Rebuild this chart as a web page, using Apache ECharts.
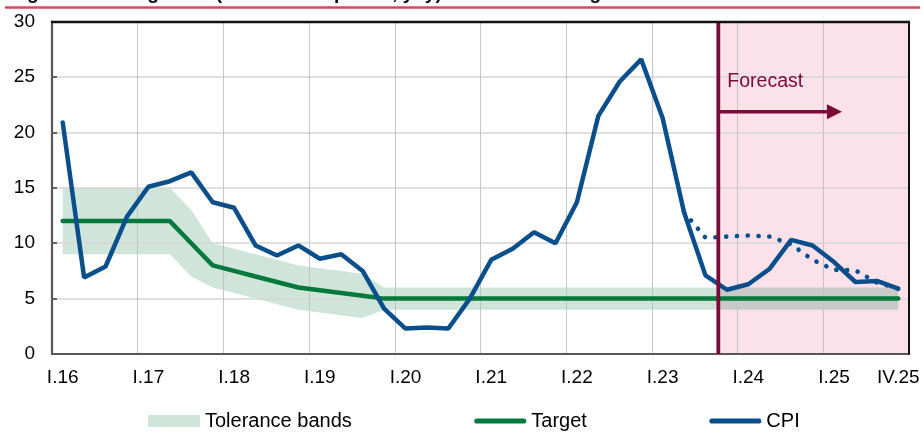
<!DOCTYPE html>
<html>
<head>
<meta charset="utf-8">
<title>CPI growth and inflation targets</title>
<script src="https://cdn.jsdelivr.net/npm/echarts@6.0.0/dist/echarts.min.js"></script>
<style>
  html, body { margin: 0; padding: 0; background: #fff; }
  #chart { width: 923px; height: 432px; }
</style>
</head>
<body>
<div id="chart"></div>
<script>
// Quarters on the horizontal axis
const QUARTERS = [
  'I.16','II.16','III.16','IV.16','I.17','II.17','III.17','IV.17',
  'I.18','II.18','III.18','IV.18','I.19','II.19','III.19','IV.19',
  'I.20','II.20','III.20','IV.20','I.21','II.21','III.21','IV.21',
  'I.22','II.22','III.22','IV.22','I.23','II.23','III.23','IV.23',
  'I.24','II.24','III.24','IV.24','I.25','II.25','III.25','IV.25'
];

// CPI, % yoy, end of quarter (from IV.23 onwards: forecast)
const CPI = [
  20.9, 6.9, 7.9, 12.4, 15.1, 15.6, 16.4, 13.7,
  13.2, 9.8, 8.9, 9.8, 8.6, 9.0, 7.5, 4.1,
  2.3, 2.4, 2.3, 5.0, 8.5, 9.5, 11.0, 10.0,
  13.7, 21.5, 24.6, 26.6, 21.3, 12.8, 7.1, 5.8,
  6.3, 7.7, 10.3, 9.8, 8.3, 6.5, 6.6, 5.9
];

// Previous CPI forecast path (dotted)
const CPI_PREVIOUS = [
  null, null, null, null, null, null, null, null,
  null, null, null, null, null, null, null, null,
  null, null, null, null, null, null, null, null,
  null, null, null, null, null, 12.8, 10.5, 10.6,
  10.7, 10.6, 9.9, 8.5, 7.6, 7.55, 6.45, 5.9
];

// Inflation target path
const TARGET = [
  12, 12, 12, 12, 12, 12, 10, 8,
  7.5, 7, 6.5, 6, 5.75, 5.5, 5.25, 5,
  5, 5, 5, 5, 5, 5, 5, 5,
  5, 5, 5, 5, 5, 5, 5, 5,
  5, 5, 5, 5, 5, 5, 5, 5
];

// Tolerance band, lower and upper bounds
const BAND_LOW = [
  9, 9, 9, 9, 9, 9, 7, 6,
  5.5, 5, 4.5, 4, 3.75, 3.5, 3.25, 4,
  4, 4, 4, 4, 4, 4, 4, 4,
  4, 4, 4, 4, 4, 4, 4, 4,
  4, 4, 4, 4, 4, 4, 4, 4
];
const BAND_HIGH = [
  15, 15, 15, 15, 15, 15, 13, 10,
  9.5, 9, 8.5, 8, 7.75, 7.5, 7.25, 6,
  6, 6, 6, 6, 6, 6, 6, 6,
  6, 6, 6, 6, 6, 6, 6, 6,
  6, 6, 6, 6, 6, 6, 6, 6
];

// Y axis range
const Y_MIN = 0, Y_MAX = 30, Y_STEP = 5;

// Forecast annotation, in quarter units along the time line and % on the value axis
const FORECAST_START = 31.1;
const ARROW_END = 36.87;
const ARROW_LEVEL = 21.87;
const LABEL_LEVEL = 24.55;

const FONT = "'Liberation Sans', Arial, sans-serif";
const BLUE = '#0a4f8c';
const GREEN = '#00793d';
const BAND_GREEN = '#cfe5da';
const BAND_GREY = '#c9c9c9';
const MAROON = '#7c0a38';
const PINK = '#fbe1ea';

// thick rounded bar inside a 52x12 legend box
const LINE_ICON = 'path://M0,0M52,12M2.6,3.4L49.4,3.4A2.6,2.6,0,0,1,49.4,8.6L2.6,8.6A2.6,2.6,0,0,1,2.6,3.4Z';

const bandWidth = BAND_HIGH.map((v, i) => +(v - BAND_LOW[i]).toFixed(2));
const X_END = QUARTERS.length;
// share of the band (from first to last point) that lies before the forecast start
const bandSplit = (FORECAST_START - 0.5) / (X_END - 1);

const chart = echarts.init(document.getElementById('chart'), null, { renderer: 'canvas' });

const option = {
  animation: false,
  backgroundColor: '#fff',
  textStyle: { fontFamily: FONT },
  grid: {
    left: 52, right: 14, top: 21.7, bottom: 78,
    containLabel: false,
    outerBoundsMode: 'none'
  },
  graphic: [
    {
      type: 'text', x: 10, y: -16, z: 100,
      style: {
        text: 'Figure 1.5. CPI growth (as of end of period, yoy) and inflation targets',
        font: 'bold 19px ' + FONT, fill: '#000',
        verticalAlign: 'top', align: 'left'
      }
    },
    {
      type: 'line', z: 100,
      shape: { x1: 5, y1: 7.5, x2: 920, y2: 7.5 },
      style: { stroke: '#d4475e', lineWidth: 2.5 }
    }
  ],
  legend: {
    left: 148, top: 411, padding: 0,
    itemWidth: 52, itemHeight: 12, itemGap: 122.5,
    textStyle: { fontSize: 20, color: '#000', fontFamily: FONT },
    data: [
      { name: 'Tolerance bands', icon: 'rect' },
      { name: 'Target', icon: LINE_ICON },
      { name: 'CPI', icon: LINE_ICON }
    ]
  },
  xAxis: [
    {
      type: 'category',
      data: QUARTERS,
      boundaryGap: true,
      z: 3,
      axisLine: { show: true, lineStyle: { color: '#585858', width: 2.2 } },
      axisTick: { show: false },
      axisLabel: {
        interval: (i) => i % 4 === 0 || i === QUARTERS.length - 1,
        fontSize: 19, color: '#000', margin: 14, fontFamily: FONT
      },
      splitLine: {
        show: true,
        interval: (i) => i % 4 === 0,
        lineStyle: { color: '#c4c4c4', width: 1 }
      }
    },
    {
      // continuous time scale (in quarters) used for the forecast annotation; also draws the top frame
      type: 'value', position: 'top', min: 0, max: X_END, z: 8,
      axisLine: { show: true, onZero: false, lineStyle: { color: '#111', width: 2.4 } },
      axisTick: { show: false }, axisLabel: { show: false }, splitLine: { show: false }
    }
  ],
  yAxis: [
    {
      type: 'value', min: Y_MIN, max: Y_MAX, interval: Y_STEP, z: 3,
      axisLine: { show: true, lineStyle: { color: '#585858', width: 2.2 } },
      axisTick: { show: true, inside: true, length: 5, lineStyle: { color: '#585858', width: 1.8 } },
      axisLabel: { fontSize: 19, color: '#000', margin: 17, fontFamily: FONT },
      splitLine: {
        show: true, showMinLine: false, showMaxLine: false,
        lineStyle: { color: '#d6d6d6', width: 1.5 }
      }
    },
    {
      // right frame
      type: 'value', position: 'right', min: Y_MIN, max: Y_MAX, z: 8,
      axisLine: { show: true, onZero: false, lineStyle: { color: '#111', width: 2 } },
      axisTick: { show: false }, axisLabel: { show: false }, splitLine: { show: false }
    }
  ],
  series: [
    {
      // forecast horizon background
      type: 'custom',
      xAxisIndex: 1, yAxisIndex: 0, z: 1,
      silent: true,
      data: [[FORECAST_START, Y_MIN]],
      encode: { x: 0, y: 1 },
      renderItem: (params, api) => {
        const tl = api.coord([FORECAST_START, Y_MAX]);
        const br = api.coord([X_END, Y_MIN]);
        return {
          type: 'rect',
          shape: { x: tl[0], y: tl[1], width: br[0] - tl[0], height: br[1] - tl[1] },
          style: { fill: PINK }
        };
      }
    },
    {
      name: 'bandBase',
      type: 'line', stack: 'band', z: 2,
      data: BAND_LOW,
      symbol: 'none', silent: true,
      lineStyle: { width: 0, opacity: 0 }
    },
    {
      name: 'Tolerance bands',
      type: 'line', stack: 'band', z: 2,
      data: bandWidth,
      symbol: 'none', silent: true,
      itemStyle: { color: BAND_GREEN },
      lineStyle: { width: 0, opacity: 0 },
      areaStyle: {
        opacity: 1,
        color: {
          type: 'linear', x: 0, y: 0, x2: 1, y2: 0,
          colorStops: [
            { offset: 0, color: BAND_GREEN },
            { offset: bandSplit, color: BAND_GREEN },
            { offset: bandSplit, color: BAND_GREY },
            { offset: 1, color: BAND_GREY }
          ]
        }
      }
    },
    {
      name: 'Target',
      type: 'line', z: 4,
      data: TARGET,
      symbol: 'none',
      itemStyle: { color: GREEN },
      lineStyle: { color: GREEN, width: 4.5, cap: 'round' }
    },
    {
      name: 'CPI, previous forecast',
      type: 'line', z: 5,
      data: CPI_PREVIOUS,
      symbol: 'none',
      itemStyle: { color: BLUE },
      lineStyle: { color: BLUE, width: 4.6, type: [0.1, 10.7], cap: 'round' }
    },
    {
      name: 'CPI',
      type: 'line', z: 6,
      data: CPI,
      symbol: 'none',
      itemStyle: { color: BLUE },
      lineStyle: { color: BLUE, width: 4.5, cap: 'round' }
    },
    {
      // forecast start line, label and arrow
      type: 'custom',
      xAxisIndex: 1, yAxisIndex: 0, z: 7,
      silent: true,
      data: [[FORECAST_START, Y_MIN]],
      encode: { x: 0, y: 1 },
      renderItem: (params, api) => {
        const top = api.coord([FORECAST_START, Y_MAX]);
        const bottom = api.coord([FORECAST_START, Y_MIN]);
        const a0 = api.coord([FORECAST_START, ARROW_LEVEL]);
        const a1 = api.coord([ARROW_END, ARROW_LEVEL]);
        const lab = api.coord([FORECAST_START, LABEL_LEVEL]);
        const head = 15, half = 7.5;
        return {
          type: 'group',
          children: [
            {
              type: 'line',
              shape: { x1: top[0], y1: top[1], x2: bottom[0], y2: bottom[1] },
              style: { stroke: MAROON, lineWidth: 3.8 }
            },
            {
              type: 'line',
              shape: { x1: a0[0], y1: a0[1], x2: a1[0] - head + 1, y2: a1[1] },
              style: { stroke: MAROON, lineWidth: 3.3 }
            },
            {
              type: 'polygon',
              shape: { points: [[a1[0], a1[1]], [a1[0] - head, a1[1] - half], [a1[0] - head, a1[1] + half]] },
              style: { fill: MAROON }
            },
            {
              type: 'text',
              x: lab[0] + 9, y: lab[1],
              style: {
                text: 'Forecast', fill: MAROON,
                font: '19.5px ' + FONT,
                verticalAlign: 'middle', align: 'left'
              }
            }
          ]
        };
      }
    }
  ]
};

chart.setOption(option);
</script>
</body>
</html>
